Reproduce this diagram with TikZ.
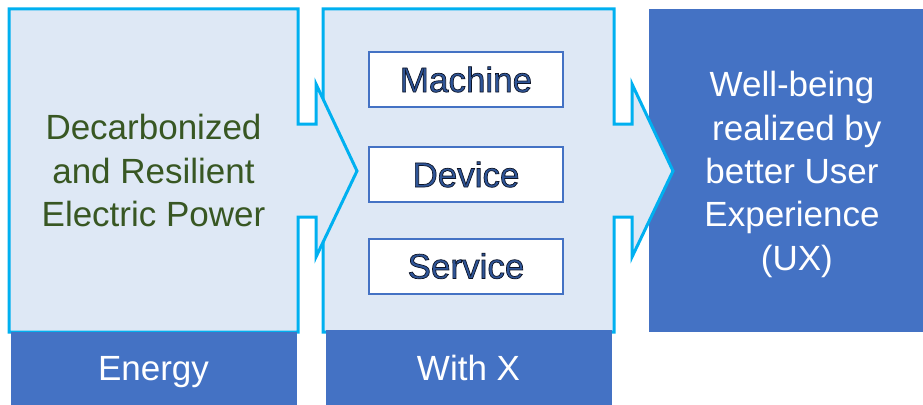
\documentclass[tikz,border=0pt]{standalone}
\usepackage{fontspec}
\setmainfont{Liberation Sans}
\setsansfont{Liberation Sans}
\definecolor{lightfill}{HTML}{DEE8F5}
\definecolor{cyanline}{HTML}{00B0F0}
\definecolor{darkblue}{HTML}{4472C4}
\definecolor{darkgreen}{HTML}{385723}
\definecolor{navytext}{HTML}{2F5597}
\newcommand{\outlinetext}[1]{\special{pdf:literal direct 0.05 0.08 0.15 RG 0.7 w 2 Tr}#1\special{pdf:literal direct 0 Tr}}
\tikzset{
  chevbox/.style={fill=lightfill, draw=cyanline, line width=3pt, line join=miter},
  labelbox/.style={fill=darkblue, draw=none},
  itembox/.style={fill=white, draw=darkblue, line width=2pt, minimum width=194pt, minimum height=55pt, inner sep=0pt},
  bigtext/.style={font=\fontsize{35}{43.4}\selectfont, align=center, inner sep=0pt},
}
\begin{document}
\begin{tikzpicture}[x=1pt,y=-1pt]
\useasboundingbox (0,0) rectangle (923,404);
% right result box
\fill[darkblue] (649,9) rectangle (930,332);
\node (ux) [bigtext, text=white] at (792,174.5) {Well-being\\\mbox{}\ realized by\\better User\\Experience\\\mbox{}\ (UX)};
% middle chevron
\draw[chevbox] (323,9) -- (614,9) -- (614,124) -- (632,124) -- (632,84) -- (673,171) -- (632,257) -- (632,217) -- (614,217) -- (614,332) -- (323,332) -- cycle;
% left chevron
\draw[chevbox] (9,9) -- (298,9) -- (298,124) -- (316,124) -- (316,84) -- (357,171) -- (316,257) -- (316,217) -- (298,217) -- (298,332) -- (9,332) -- cycle;
\node (power) [bigtext, text=darkgreen] at (153.5,170.7) {Decarbonized\\and Resilient\\Electric Power};
% bottom labels
\fill[labelbox] (11,332) rectangle (297,410);
\fill[labelbox] (326,330) rectangle (612,410);
\node (energy) [bigtext, text=white, anchor=base] at (153.5,380) {Energy};
\node (withx) [bigtext, text=white, anchor=base] at (468.5,380) {With X};
% item boxes
\node (machine) [itembox, font=\fontsize{35}{42}\selectfont, text=navytext] at (466,79.5) {\outlinetext{Machine}};
\node (device) [itembox, font=\fontsize{35}{42}\selectfont, text=navytext] at (466,174.5) {\outlinetext{Device}};
\node (service) [itembox, font=\fontsize{35}{42}\selectfont, text=navytext] at (466,266) {\outlinetext{Service}};
\end{tikzpicture}
\end{document}
